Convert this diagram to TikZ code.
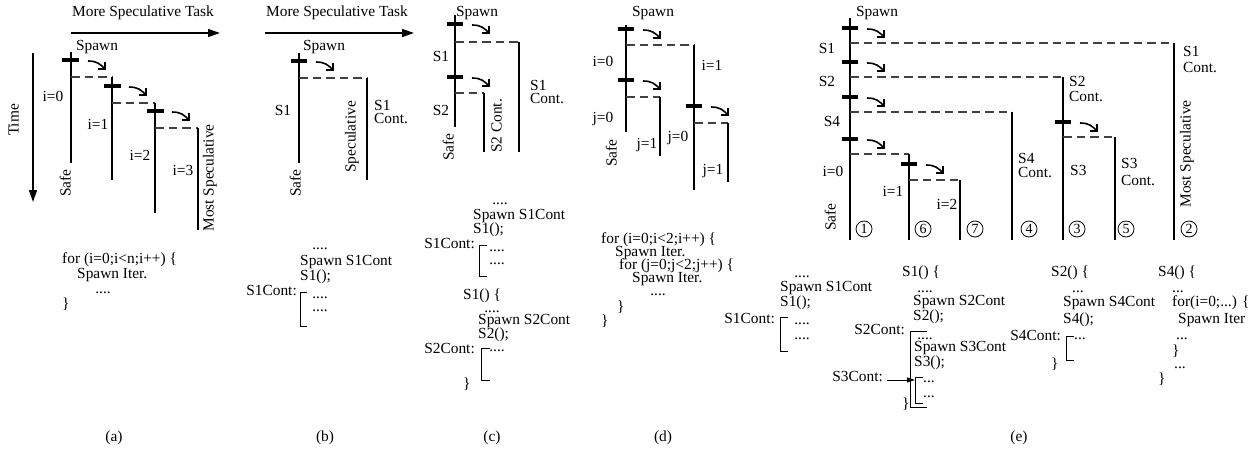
\documentclass[tikz,border=0pt]{standalone}
\usepackage{fontspec}
\setmainfont{Liberation Serif}
\usetikzlibrary{arrows.meta}
\tikzset{
  T/.style={font=\fontsize{15.4}{16}\selectfont, inner sep=0pt, text height=10pt, text depth=3pt},
  code/.style={T, anchor=west},
  codeR/.style={T, anchor=east},
  lbl/.style={T, anchor=center},
  rlbl/.style={T, anchor=center, rotate=90},
  dts/.style={font=\fontsize{15.4}{16}\selectfont, inner sep=0pt, anchor=base, text height=1.5pt, text depth=0pt},
  thread/.style={line width=2.4pt},
  tick/.style={line width=3.4pt},
  dashln/.style={line width=1.2pt, black!75, dash pattern=on 8.5pt off 5pt},
  bigarrow/.style={line width=1.5pt, -{Triangle[length=12pt,width=8pt]}},
  spawnarrow/.style={line width=1.6pt, -{Straight Barb[length=5pt,width=10pt]}},
  brack/.style={line width=0.9pt},
  num/.style={circle, draw, line width=0.8pt, minimum size=16pt, inner sep=0pt, font=\fontsize{14}{15}\selectfont},
  sparr/.pic={\draw[spawnarrow] (0,0) .. controls (9,0) and (12,3) .. (18,9);}
}
\begin{document}
\begin{tikzpicture}[x=1pt,y=-1pt]
\useasboundingbox (0,0) rectangle (1260,450);

% ================= (a) =================
\node[lbl] (a-title) at (143,13) {More Speculative Task};
\coordinate (a-ar1) at (71,33); \coordinate (a-ar2) at (220,33);
\draw[bigarrow] (a-ar1) -- (a-ar2);
\node[rlbl] (a-time) at (15,120) {Time};
\coordinate (a-t1) at (33,53); \coordinate (a-t2) at (33,202);
\draw[bigarrow] (a-t1) -- (a-t2);
\node[lbl] (a-spawn) at (97,47) {Spawn};
% thread 1
\draw[thread] (71,52) -- (71,163);
\draw[tick] (62,60) -- (79,60);
\pic at (88,61) {sparr};
\draw[dashln] (71,77) -- (112,77);
% thread 2
\draw[thread] (112,77) -- (112,180);
\draw[tick] (104,86) -- (121,86);
\pic at (129,87) {sparr};
\draw[dashln] (112,103) -- (155,103);
% thread 3
\draw[thread] (155,103) -- (155,213);
\draw[tick] (147,111) -- (164,111);
\pic at (172,112) {sparr};
\draw[dashln] (155,128) -- (198,128);
% thread 4
\draw[thread] (198,128) -- (198,230);
\node[lbl] (a-i0) at (53,98) {i=0};
\node[lbl] (a-i1) at (98,126) {i=1};
\node[lbl] (a-i2) at (140,157) {i=2};
\node[lbl] (a-i3) at (183,172) {i=3};
\node[rlbl] (a-safe) at (67,183) {Safe};
\node[rlbl] (a-most) at (210,178) {Most Speculative};
% code
\node[code] (a-c1) at (62,260) {for (i=0;i<n;i++) \{};
\node[code] (a-c2) at (77,275) {Spawn Iter.};
\node[dts] (a-c3) at (103,293) {....};
\node[code] (a-c4) at (62,305) {\}};
\node[lbl] (a-cap) at (114,438) {(a)};

% ================= (b) =================
\node[lbl] (b-title) at (337,13) {More Speculative Task};
\coordinate (b-ar1) at (265,33); \coordinate (b-ar2) at (414,33);
\draw[bigarrow] (b-ar1) -- (b-ar2);
\node[lbl] (b-spawn) at (324,47) {Spawn};
\draw[thread] (299,53) -- (299,163);
\draw[tick] (291,61) -- (307,61);
\pic at (316,62) {sparr};
\draw[dashln] (299,78) -- (367,78);
\draw[thread] (367,78) -- (367,180);
\node[lbl] (b-s1) at (283,112) {S1};
\node[code] (b-s1c1) at (374,107) {S1};
\node[code] (b-s1c2) at (374,120) {Cont.};
\node[rlbl] (b-spec) at (352,137) {Speculative};
\node[rlbl] (b-safe) at (297,183) {Safe};
% code
\node[dts] (b-c0) at (320,249) {....};
\node[code] (b-c1) at (300,262) {Spawn S1Cont};
\node[code] (b-c2) at (300,277) {S1();};
\node[codeR] (b-c3) at (297,292) {S1Cont:};
\draw[brack] (307,292) -- (300,292) -- (300,326) -- (307,326);
\node[dts] (b-c4) at (320,298) {....};
\node[dts] (b-c5) at (320,311) {....};
\node[lbl] (b-cap) at (325,438) {(b)};

% ================= (c) =================
\node[lbl] (c-spawn) at (477,13) {Spawn};
\draw[thread] (455,15) -- (455,127);
\draw[tick] (447,24) -- (463,24);
\pic at (472,25) {sparr};
\draw[dashln] (455,42) -- (519,42);
\draw[thread] (519,42) -- (519,152);
\draw[tick] (447,77) -- (463,77);
\pic at (472,78) {sparr};
\draw[dashln] (455,93) -- (484,93);
\draw[thread] (484,93) -- (484,152);
\node[lbl] (c-s1) at (441,58) {S1};
\node[lbl] (c-s2) at (441,112) {S2};
\node[rlbl] (c-safe) at (450,147) {Safe};
\node[rlbl] (c-s2c) at (498,126) {S2 Cont.};
\node[code] (c-s1c1) at (530,87) {S1};
\node[code] (c-s1c2) at (530,100) {Cont.};
% code
\node[dts] (c-c0) at (500,204) {....};
\node[code] (c-c1) at (473,216) {Spawn S1Cont};
\node[code] (c-c2) at (473,230) {S1();};
\node[codeR] (c-c3) at (475,245) {S1Cont:};
\draw[brack] (487,245) -- (479,245) -- (479,276) -- (487,276);
\node[dts] (c-c4) at (497,251) {....};
\node[dts] (c-c5) at (497,264) {....};
\node[code] (c-c6) at (463,296) {S1() \{};
\node[dts] (c-c7) at (492,312) {....};
\node[code] (c-c8) at (478,321) {Spawn S2Cont};
\node[code] (c-c9) at (478,335) {S2();};
\node[codeR] (c-c10) at (475,350) {S2Cont:};
\draw[brack] (490,348) -- (481,348) -- (481,380) -- (490,380);
\node[dts] (c-c11) at (497,351) {....};
\node[code] (c-c12) at (463,385) {\}};
\node[lbl] (c-cap) at (492,438) {(c)};

% ================= (d) =================
\node[lbl] (d-spawn) at (653,13) {Spawn};
\draw[thread] (626,25) -- (626,132);
\draw[tick] (618,29) -- (634,29);
\pic at (643,30) {sparr};
\draw[dashln] (626,45) -- (694,45);
\draw[thread] (694,45) -- (694,190);
\draw[tick] (618,80) -- (634,80);
\pic at (643,81) {sparr};
\draw[dashln] (626,97) -- (660,97);
\draw[thread] (660,97) -- (660,156);
\draw[tick] (686,106) -- (702,106);
\pic at (711,107) {sparr};
\draw[dashln] (694,123) -- (728,123);
\draw[thread] (728,123) -- (728,182);
\node[lbl] (d-i0) at (603,63) {i=0};
\node[lbl] (d-j0) at (603,119) {j=0};
\node[rlbl] (d-safe) at (613,153) {Safe};
\node[lbl] (d-j1) at (647,145) {j=1};
\node[lbl] (d-j0b) at (678,138) {j=0};
\node[lbl] (d-i1) at (712,67) {i=1};
\node[lbl] (d-j1b) at (713,171) {j=1};
% code
\node[code] (d-c1) at (601,240) {for (i=0;i<2;i++) \{};
\node[code] (d-c2) at (615,253) {Spawn Iter.};
\node[code] (d-c3) at (619,266) {for (j=0;j<2;j++) \{};
\node[code] (d-c4) at (632,279) {Spawn Iter.};
\node[dts] (d-c5) at (658,295) {....};
\node[code] (d-c6) at (617,308) {\}};
\node[code] (d-c7) at (601,322) {\}};
\node[lbl] (d-cap) at (663,438) {(d)};

% ================= (e) =================
\node[lbl] (e-spawn) at (877,13) {Spawn};
\draw[thread] (850,18) -- (850,240);
\foreach \yy in {28,62,97,139}{
  \draw[tick] (842,\yy) -- (858,\yy);
  \pic at (867,\yy+1) {sparr};
}
\draw[dashln] (850,43) -- (1174,43);
\draw[thread] (1174,43) -- (1174,240);
\draw[dashln] (850,77) -- (1063,77);
\draw[thread] (1063,77) -- (1063,240);
\draw[dashln] (850,112) -- (1012,112);
\draw[thread] (1012,112) -- (1012,240);
\draw[dashln] (850,154) -- (909,154);
\draw[thread] (909,154) -- (909,240);
\draw[tick] (901,164) -- (917,164);
\pic at (926,165) {sparr};
\draw[dashln] (909,180) -- (960,180);
\draw[thread] (960,180) -- (960,240);
\draw[tick] (1055,122) -- (1071,122);
\pic at (1080,123) {sparr};
\draw[dashln] (1063,137) -- (1115,137);
\draw[thread] (1115,137) -- (1115,240);
\node[lbl] (e-s1) at (827,50) {S1};
\node[lbl] (e-s2) at (827,83) {S2};
\node[lbl] (e-s4) at (832,123) {S4};
\node[lbl] (e-i0) at (833,173) {i=0};
\node[lbl] (e-i1) at (893,193) {i=1};
\node[lbl] (e-i2) at (947,206) {i=2};
\node[rlbl] (e-safe) at (832,217) {Safe};
\node[code] (e-s1c1) at (1183,53) {S1};
\node[code] (e-s1c2) at (1183,69) {Cont.};
\node[code] (e-s2c1) at (1069,83) {S2};
\node[code] (e-s2c2) at (1069,98) {Cont.};
\node[code] (e-s4c1) at (1018,160) {S4};
\node[code] (e-s4c2) at (1018,174) {Cont.};
\node[code] (e-s3) at (1070,172) {S3};
\node[code] (e-s3c1) at (1121,165) {S3};
\node[code] (e-s3c2) at (1121,182) {Cont.};
\node[rlbl] (e-most) at (1187,154) {Most Speculative};
\node[num] (n1) at (864,229) {1};
\node[num] (n6) at (923,229) {6};
\node[num] (n7) at (975,229) {7};
\node[num] (n4) at (1029,229) {4};
\node[num] (n3) at (1077,229) {3};
\node[num] (n5) at (1126,229) {5};
\node[num] (n2) at (1189,229) {2};
% code block 1
\node[dts] (e-a0) at (802,277) {....};
\node[code] (e-a1) at (780,288) {Spawn S1Cont};
\node[code] (e-a2) at (780,303) {S1();};
\node[codeR] (e-a3) at (775,320) {S1Cont:};
\draw[brack] (788,317) -- (780,317) -- (780,351) -- (788,351);
\node[dts] (e-a4) at (802,324) {....};
\node[dts] (e-a5) at (802,339) {....};
% code block 2
\node[code] (e-b1) at (902,273) {S1() \{};
\node[dts] (e-b2) at (925,292) {....};
\node[code] (e-b3) at (913,302) {Spawn S2Cont};
\node[code] (e-b4) at (913,317) {S2();};
\node[codeR] (e-b5) at (905,331) {S2Cont:};
\draw[brack] (927,331) -- (910,331) -- (910,407) -- (927,407);
\node[dts] (e-b6) at (925,339) {....};
\node[code] (e-b7) at (914,348) {Spawn S3Cont};
\node[code] (e-b8) at (914,363) {S3();};
\node[codeR] (e-b9) at (883,378) {S3Cont:};
\coordinate (e-s3tip) at (915,380);
\draw[line width=0.9pt, -{Triangle[length=8pt,width=5pt]}] (e-b9.east) ++(4,2) -- (e-s3tip);
\draw[brack] (923,377) -- (915,377) -- (915,403) -- (923,403);
\node[dts] (e-b10) at (929,382) {...};
\node[dts] (e-b11) at (929,397) {...};
\node[code] (e-b12) at (902,405) {\}};
% code block 3
\node[code] (e-c1) at (1051,273) {S2() \{};
\node[dts] (e-c2) at (1078,292) {...};
\node[code] (e-c3) at (1063,303) {Spawn S4Cont};
\node[code] (e-c4) at (1063,320) {S4();};
\node[codeR] (e-c5) at (1061,337) {S4Cont:};
\draw[brack] (1074,336) -- (1066,336) -- (1066,360) -- (1074,360);
\node[dts] (e-c6) at (1080,339) {...};
\node[code] (e-c7) at (1051,365) {\}};
% code block 4
\node[code] (e-d1) at (1158,273) {S4() \{};
\node[dts] (e-d2) at (1178,292) {...};
\node[code] (e-d3) at (1172,303) {for(i=0;...) \{};
\node[code] (e-d4) at (1178,320) {Spawn Iter};
\node[dts] (e-d5) at (1182,339) {...};
\node[code] (e-d6) at (1172,352) {\}};
\node[dts] (e-d7) at (1180,368) {...};
\node[code] (e-d8) at (1158,380) {\}};
\node[lbl] (e-cap) at (1019,438) {(e)};
\end{tikzpicture}
\end{document}
